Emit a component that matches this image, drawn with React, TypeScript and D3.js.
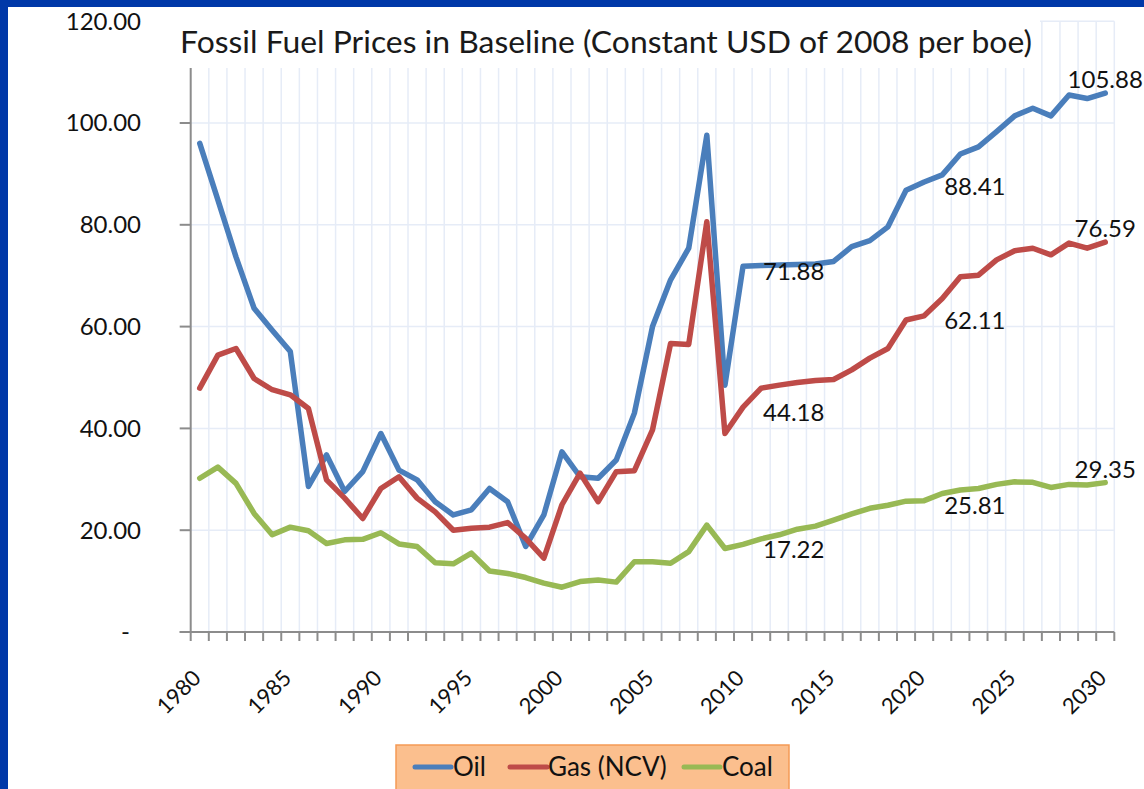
import React, { useEffect, useRef } from 'react';
import * as d3 from 'd3';

const years: number[] = Array.from({ length: 51 }, (_, i) => 1980 + i);

const oil = [96.0, 84.9, 73.7, 63.6, 59.3, 55.1, 28.6, 34.8, 27.6, 31.5,
  39.0, 31.8, 29.9, 25.6, 23.0, 24.0, 28.2, 25.6, 16.8, 23.0,
  35.4, 30.5, 30.2, 33.8, 43.0, 60.0, 69.2, 75.4, 97.6, 48.5,
  71.88, 72.0, 72.1, 72.2, 72.3, 72.8, 75.7, 76.9, 79.6, 86.8,
  88.41, 89.8, 93.9, 95.3, 98.3, 101.4, 102.9, 101.4, 105.5, 104.8, 105.88];

const gas = [47.9, 54.4, 55.7, 49.8, 47.6, 46.6, 43.9, 29.9, 26.3, 22.3,
  28.2, 30.5, 26.3, 23.6, 20.0, 20.4, 20.6, 21.5, 18.4, 14.5,
  25.0, 31.2, 25.6, 31.5, 31.7, 39.7, 56.7, 56.5, 80.6, 39.0,
  44.18, 47.9, 48.5, 49.0, 49.4, 49.6, 51.5, 53.8, 55.7, 61.3,
  62.11, 65.5, 69.8, 70.1, 73.1, 74.9, 75.4, 74.1, 76.4, 75.4, 76.59];

const coal = [30.2, 32.4, 29.2, 23.3, 19.1, 20.6, 19.9, 17.4, 18.1, 18.2,
  19.5, 17.3, 16.8, 13.6, 13.4, 15.5, 12.0, 11.5, 10.7, 9.6,
  8.8, 9.9, 10.2, 9.8, 13.8, 13.8, 13.5, 15.8, 21.0, 16.4,
  17.22, 18.3, 19.1, 20.2, 20.8, 22.0, 23.2, 24.3, 24.9, 25.7,
  25.81, 27.2, 27.9, 28.2, 29.0, 29.5, 29.4, 28.4, 29.0, 28.9, 29.35];

const seriesNames = ['Oil', 'Gas (NCV)', 'Coal'];
const seriesColors = ['#4A7EBB', '#BE4B48', '#98B954'];
const yTicks = [0, 20, 40, 60, 80, 100, 120];
const xLabelYears = [1980, 1985, 1990, 1995, 2000, 2005, 2010, 2015, 2020, 2025, 2030];
const labelYears = [2010, 2020, 2030];

const FONT = 'Lato, "Open Sans", sans-serif';

const App: React.FC = () => {
  const svgRef = useRef<SVGSVGElement>(null);

  useEffect(() => {
    if (!svgRef.current) return;
    const svg = d3.select(svgRef.current);
    svg.selectAll('*').remove();

    const W = 1144, H = 789;
    const left = 190.7, right = 1114.3, top = 21.2, bottom = 632;

    svg.append('rect').attr('width', W).attr('height', H).attr('fill', '#fff');

    const x = d3.scaleBand<number>().domain(years).range([left, right]).padding(0);
    const y = d3.scaleLinear().domain([0, 120]).range([bottom, top]);
    const cx = (yr: number) => (x(yr) || 0) + x.bandwidth() / 2;

    // grid
    const gridColor = '#E6ECF7';
    const grid = svg.append('g');
    const bounds = years.map(yr => x(yr) || 0).concat([right]);
    grid.selectAll('.vg').data(bounds.slice(1)).enter().append('line')
      .attr('x1', d => d).attr('x2', d => d)
      .attr('y1', top).attr('y2', bottom)
      .attr('stroke', gridColor).attr('stroke-width', 1.5);
    grid.selectAll('.hg').data(yTicks.slice(1)).enter().append('line')
      .attr('x1', left).attr('x2', right)
      .attr('y1', d => y(d)).attr('y2', d => y(d))
      .attr('stroke', gridColor).attr('stroke-width', 1.5);

    // axes
    const axisColor = '#8C8C8C';
    svg.append('line').attr('x1', left).attr('x2', left).attr('y1', top).attr('y2', bottom + 9)
      .attr('stroke', axisColor).attr('stroke-width', 2);
    svg.append('line').attr('x1', left - 11).attr('x2', right).attr('y1', bottom).attr('y2', bottom)
      .attr('stroke', axisColor).attr('stroke-width', 2);
    svg.selectAll('.yt').data(yTicks).enter().append('line')
      .attr('x1', left - 11).attr('x2', left)
      .attr('y1', d => y(d)).attr('y2', d => y(d))
      .attr('stroke', axisColor).attr('stroke-width', 2);
    svg.selectAll('.xt').data(bounds.slice(1)).enter().append('line')
      .attr('x1', d => d).attr('x2', d => d)
      .attr('y1', bottom).attr('y2', bottom + 9)
      .attr('stroke', axisColor).attr('stroke-width', 2);

    // y labels
    svg.selectAll('.yl').data(yTicks).enter().append('text')
      .attr('x', d => (d === 0 ? 130 : 141))
      .attr('y', d => y(d))
      .attr('dy', '0.35em')
      .attr('text-anchor', 'end')
      .style('font-family', FONT).style('font-size', '24px').style('fill', '#111')
      .text(d => (d === 0 ? '-' : d.toFixed(2)));

    // x labels
    svg.selectAll('.xl').data(xLabelYears).enter().append('text')
      .attr('transform', d => `translate(${cx(d) - 3},${674}) rotate(-45)`)
      .attr('dy', '0.35em')
      .attr('text-anchor', 'end')
      .style('font-family', FONT).style('font-size', '22px').style('fill', '#111')
      .text(d => String(d));

    // lines
    const allSeries = [oil, gas, coal];
    const line = d3.line<number>().x((_, i) => cx(years[i])).y(d => y(d));
    allSeries.forEach((s, k) => {
      svg.append('path').datum(s)
        .attr('d', line)
        .attr('fill', 'none')
        .attr('stroke', seriesColors[k])
        .attr('stroke-width', 5.5)
        .attr('stroke-linejoin', 'round')
        .attr('stroke-linecap', 'round');
    });

    // data labels
    allSeries.forEach(s => {
      labelYears.forEach(yr => {
        const v = s[years.indexOf(yr)];
        const last = yr === 2030;
        svg.append('text')
          .attr('x', last ? cx(yr) : cx(yr) + 20)
          .attr('y', last ? y(v) - 5 : y(v) + 5)
          .attr('dy', last ? '0' : '0.35em')
          .attr('text-anchor', last ? 'middle' : 'start')
          .style('font-family', FONT).style('font-size', '24px').style('fill', '#111')
          .text(v.toFixed(2));
      });
    });

    // title box covering grid
    svg.append('rect').attr('x', 172).attr('y', 8).attr('width', 868).attr('height', 60).attr('fill', '#fff');
    svg.append('text')
      .attr('x', 180).attr('y', 53)
      .attr('textLength', 852).attr('lengthAdjust', 'spacingAndGlyphs')
      .style('font-family', FONT).style('font-size', '30px').style('fill', '#1a1a1a')
      .text('Fossil Fuel Prices in Baseline (Constant USD of 2008 per boe)');

    // legend
    const lg = svg.append('g');
    lg.append('rect').attr('x', 396).attr('y', 745).attr('width', 393).attr('height', 60)
      .attr('fill', '#FBBF8E').attr('stroke', '#F59A55').attr('stroke-width', 1.5);
    const items = [
      { x1: 415, x2: 451, tx: 453 },
      { x1: 510, x2: 547, tx: 548 },
      { x1: 684, x2: 720, tx: 722 },
    ];
    items.forEach((it, k) => {
      lg.append('line').attr('x1', it.x1).attr('x2', it.x2).attr('y1', 767).attr('y2', 767)
        .attr('stroke', seriesColors[k]).attr('stroke-width', 5).attr('stroke-linecap', 'round');
      lg.append('text').attr('x', it.tx).attr('y', 767).attr('dy', '0.35em')
        .style('font-family', FONT).style('font-size', '26px').style('fill', '#111')
        .text(seriesNames[k]);
    });

    // blue frame
    svg.append('rect').attr('x', 0).attr('y', 0).attr('width', 8).attr('height', H).attr('fill', '#0038A8');
    svg.append('rect').attr('x', 0).attr('y', 0).attr('width', W).attr('height', 7).attr('fill', '#0038A8');
  }, []);

  return (
    <div style={{ position: 'fixed', left: 0, top: 0, width: 1144, height: 789, overflow: 'hidden' }}>
      <svg ref={svgRef} width={1144} height={789} style={{ display: 'block' }} />
    </div>
  );
};

export default App;
